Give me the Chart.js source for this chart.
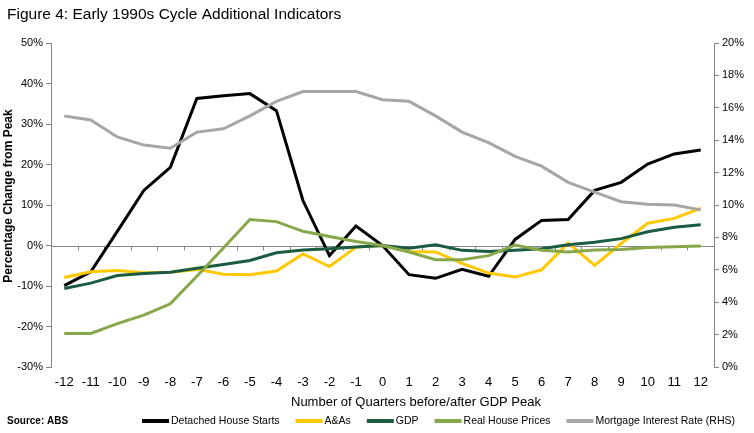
<!DOCTYPE html>
<html>
<head>
<meta charset="utf-8">
<script src="https://cdn.jsdelivr.net/npm/chart.js@4"></script>
<style>
  html, body { margin: 0; padding: 0; background: #fff; }
  #wrap { width: 754px; height: 433px; position: relative; }
</style>
</head>
<body>
<div id="wrap"><canvas id="c" width="754" height="433"></canvas></div>
<script>
const quarters = ['-12','-11','-10','-9','-8','-7','-6','-5','-4','-3','-2','-1','0','1','2','3','4','5','6','7','8','9','10','11','12'];
const detachedHouseStarts = [-9.9, -6.5, 3.5, 13.6, 19.3, 36.3, 37.0, 37.5, 33.3, 11.1, -2.5, 4.8, 0, -7.2, -8.1, -5.9, -7.6, 1.5, 6.2, 6.4, 13.6, 15.6, 20.1, 22.6, 23.6];
const aAndAs = [-7.9, -6.5, -6.2, -6.7, -6.6, -5.9, -7.1, -7.2, -6.3, -2.1, -5.2, -0.4, 0, -1.5, -1.6, -4.4, -6.8, -7.8, -6.0, 0.6, -4.9, 0.5, 5.5, 6.7, 9.2];
const gdp = [-10.6, -9.3, -7.4, -6.9, -6.6, -5.6, -4.7, -3.7, -1.8, -1.1, -0.8, -0.4, 0, -0.7, 0.2, -1.2, -1.5, -1.2, -0.8, 0.2, 0.8, 1.7, 3.4, 4.5, 5.1];
const realHousePrices = [-21.7, -21.7, -19.3, -17.2, -14.4, -7.6, -0.6, 6.4, 5.9, 3.5, 2.2, 1.0, 0, -1.6, -3.5, -3.5, -2.5, 0.1, -1.2, -1.6, -1.1, -1.0, -0.5, -0.3, -0.1];
const mortgageRate = [15.5, 15.25, 14.2, 13.7, 13.5, 14.5, 14.7, 15.5, 16.4, 17.0, 17.0, 17.0, 16.5, 16.4, 15.5, 14.5, 13.85, 13.0, 12.4, 11.4, 10.8, 10.2, 10.05, 10.0, 9.7];
const leftTicks = { min: -30, max: 50, step: 10 };
const rightTicks = { min: 0, max: 20, step: 2 };

const FONT = "'Liberation Sans', Arial, sans-serif";
const AXIS = '#868686';

const seriesDefs = [
  { label: 'Detached House Starts', data: detachedHouseStarts, color: '#000000', axis: 'y' },
  { label: 'A&As', data: aAndAs, color: '#FFC800', axis: 'y' },
  { label: 'GDP', data: gdp, color: '#1B5C40', axis: 'y' },
  { label: 'Real House Prices', data: realHousePrices, color: '#86A84A', axis: 'y' },
  { label: 'Mortgage Interest Rate (RHS)', data: mortgageRate, color: '#A6A6A6', axis: 'y1' }
];

const datasets = seriesDefs.map((s, i) => ({
  label: s.label,
  data: s.data,
  yAxisID: s.axis,
  borderColor: s.color,
  backgroundColor: s.color,
  borderWidth: 3,
  pointRadius: 0,
  tension: 0,
  fill: false,
  order: seriesDefs.length - i
}));

const decor = {
  id: 'decor',
  beforeDatasetsDraw(chart) {
    const { ctx, chartArea, scales } = chart;
    const y0 = Math.round(scales.y.getPixelForValue(0)) + 0.5;
    ctx.save();
    ctx.strokeStyle = AXIS;
    ctx.lineWidth = 1;
    ctx.beginPath();
    ctx.moveTo(chartArea.left, y0);
    ctx.lineTo(chartArea.right, y0);
    const n = quarters.length;
    const step = (scales.x.getPixelForValue(1) - scales.x.getPixelForValue(0));
    for (let i = 0; i < n - 1; i++) {
      const x = Math.round(scales.x.getPixelForValue(i) + step / 2) + 0.5;
      ctx.moveTo(x, y0);
      ctx.lineTo(x, y0 + 4);
    }
    ctx.stroke();
    ctx.restore();
  },
  afterDraw(chart) {
    const { ctx } = chart;
    ctx.save();
    ctx.fillStyle = '#000';
    // Title
    ctx.font = `15.5px ${FONT}`;
    ctx.textAlign = 'left';
    ctx.textBaseline = 'alphabetic';
    ctx.fillText('Figure 4: Early 1990s Cycle Additional Indicators', 7, 18.5);
    // Left axis title
    ctx.save();
    ctx.translate(8.5, 196);
    ctx.rotate(-Math.PI / 2);
    ctx.font = `bold 12px ${FONT}`;
    ctx.textAlign = 'center';
    ctx.textBaseline = 'middle';
    ctx.fillText('Percentage Change from Peak', 0, 0);
    ctx.restore();
    // X title
    ctx.font = `13px ${FONT}`;
    ctx.textAlign = 'center';
    ctx.textBaseline = 'middle';
    ctx.fillText('Number of Quarters before/after GDP Peak', 416, 402);
    // Source
    ctx.font = `bold 10px ${FONT}`;
    ctx.textAlign = 'left';
    ctx.fillText('Source: ABS', 7, 421);
    // Legend
    ctx.font = `10.5px ${FONT}`;
    let x = 142;
    const ly = 421;
    chart.data.datasets.forEach(ds => {
      ctx.strokeStyle = ds.borderColor;
      ctx.lineWidth = 4;
      ctx.beginPath();
      ctx.moveTo(x, ly);
      ctx.lineTo(x + 27, ly);
      ctx.stroke();
      ctx.fillStyle = '#000';
      ctx.fillText(ds.label, x + 29, ly);
      x += 29 + ctx.measureText(ds.label).width + 16;
    });
    ctx.restore();
  }
};

new Chart(document.getElementById('c'), {
  type: 'line',
  data: { labels: quarters, datasets },
  options: {
    responsive: false,
    animation: false,
    layout: { padding: { top: 43, left: 0, right: 0, bottom: 0 } },
    plugins: { legend: { display: false }, tooltip: { enabled: false }, title: { display: false } },
    scales: {
      x: {
        type: 'category',
        offset: true,
        grid: { display: false, drawTicks: false },
        border: { display: false },
        ticks: { color: '#000', font: { family: FONT, size: 13 }, padding: 8, maxRotation: 0, autoSkip: false },
        afterFit(s) { s.height = 66; }
      },
      y: {
        position: 'left',
        min: leftTicks.min, max: leftTicks.max,
        ticks: { stepSize: leftTicks.step, color: '#000', font: { family: FONT, size: 11 }, padding: 3, callback: v => v + '%' },
        grid: { drawOnChartArea: false, drawTicks: true, tickLength: 5, color: AXIS },
        border: { display: true, color: AXIS },
        afterFit(s) { s.width = 51; }
      },
      y1: {
        position: 'right',
        min: rightTicks.min, max: rightTicks.max,
        ticks: { stepSize: rightTicks.step, color: '#000', font: { family: FONT, size: 11 }, padding: 3, callback: v => v + '%' },
        grid: { drawOnChartArea: false, drawTicks: true, tickLength: 5, color: AXIS },
        border: { display: true, color: AXIS },
        afterFit(s) { s.width = 40; }
      }
    }
  },
  plugins: [decor]
});
</script>
</body>
</html>
